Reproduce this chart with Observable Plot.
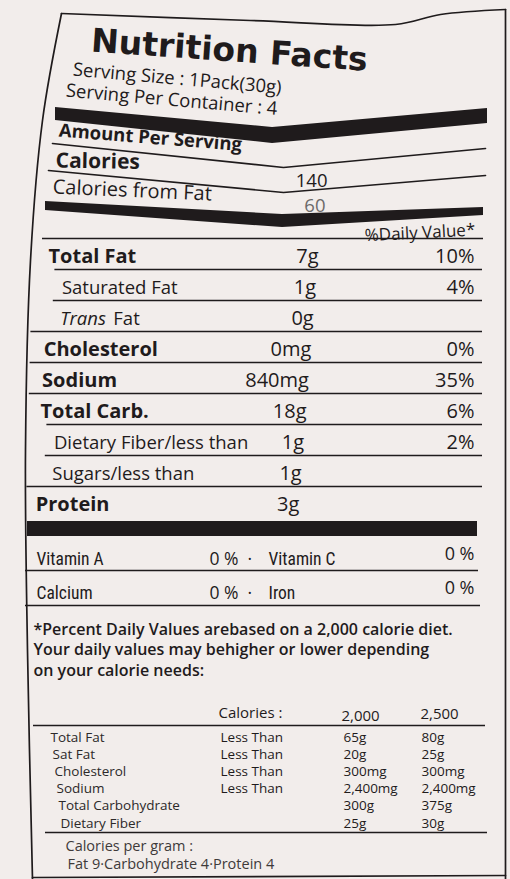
<!DOCTYPE html>
<html><head><meta charset="utf-8">
<script src="https://cdn.jsdelivr.net/npm/d3@7"></script>
<script src="https://cdn.jsdelivr.net/npm/@observablehq/plot@0.6"></script>
<style>
html,body{margin:0;padding:0;background:#f2edeb;}
#chart svg{display:block}
</style></head><body><div id="chart"></div>
<script>
// ---- data ----
const title = "Nutrition Facts";
const servingLines = ["Serving Size : 1Pack(30g)", "Serving Per Container : 4"];
const amountHeader = "Amount Per Serving";
const caloriesLabels = ["Calories", "Calories from Fat"];
const caloriesValues = ["140", "60"];
const dvHeader = "%Daily Value*";
const nutrientNames = ["Total Fat","Saturated Fat","Trans Fat","Cholesterol","Sodium","Total Carb.","Dietary Fiber/less than","Sugars/less than","Protein"];
const nutrientAmounts = ["7g","1g","0g","0mg","840mg","18g","1g","1g","3g"];
const nutrientDV = ["10%","4%","","0%","35%","6%","2%","",""];
const nutrientBold = [true,false,false,true,true,true,false,false,true];
const vitaminNames1 = ["Vitamin A","Calcium"];
const vitaminValues1 = ["0 %","0 %"];
const vitaminNames2 = ["Vitamin C","Iron"];
const vitaminValues2 = ["0 %","0 %"];
const footnote = ["*Percent Daily Values arebased on a 2,000 calorie diet.","Your daily values may behigher or lower depending","on your calorie needs:"];
const calorieLevels = ["2,000","2,500"];
const refNames = ["Total Fat","Sat Fat","Cholesterol","Sodium","Total Carbohydrate","Dietary Fiber"];
const refQualifier = ["Less Than","Less Than","Less Than","Less Than","",""];
const ref2000 = ["65g","20g","300mg","2,400mg","300g","25g"];
const ref2500 = ["80g","25g","300mg","2,400mg","375g","30g"];
const perGram = ["Calories per gram :","Fat 9\u00b7Carbohydrate 4\u00b7Protein 4"];

// ---- layout ----
const W = 510, H = 879;
const ink = "#1f1b1c";
const bg = "#f2edeb";
const sans = "'Open Sans', sans-serif";
const narrow = "'Liberation Sans Narrow', 'Roboto Condensed', sans-serif";
const rowTop = 238, rowStep = 31;
const amountEnd = 318, dvEnd = 474;
const leftX = (i, bold) => bold ? 48 - 1.6 * i : 63 - 1.6 * i;

const rows = nutrientNames.map((n, i) => ({
  t: n, amount: nutrientAmounts[i], dv: nutrientDV[i], bold: nutrientBold[i],
  x: leftX(i, nutrientBold[i]),
  y: rowTop + rowStep * i + 24,
  ax: amountEnd - i * 2.4
}));
const rowRules = rows.slice(0, -1).map((r, i) => ({
  y: rowTop + rowStep * (i + 1), x1: rows[i + 1].bold ? 32 - 0.8 * i : leftX(i + 1, false) - 7, x2: 482, w: 1.6
}));
const rules = [
  {y: rowTop, x1: 42, x2: 483, w: 1.6},
  ...rowRules,
  {y: 570, x1: 25, x2: 478, w: 1.6},
  {y: 605, x1: 25, x2: 480, w: 1.6},
  {y: 725, x1: 33, x2: 485, w: 1.6},
  {y: 832, x1: 45, x2: 487, w: 1.6}
];
// creased (bent) rules and bars at the top of the label
const creasedLines = [
  {s: "a", x: 52, y: 143}, {s: "a", x: 283, y: 167}, {s: "a", x: 485, y: 148},
  {s: "b", x: 48, y: 170}, {s: "b", x: 283, y: 192}, {s: "b", x: 485, y: 175}
];
const creasedBars = [
  {s: "1", x: 55, y1: 107, y2: 120}, {s: "1", x: 272, y1: 127, y2: 143}, {s: "1", x: 487, y1: 108, y2: 123},
  {s: "2", x: 45, y1: 201, y2: 210}, {s: "2", x: 282, y1: 214, y2: 227}, {s: "2", x: 483, y1: 207, y2: 215}
];
const bars = [
  {x1: 27, x2: 477, y1: 521, y2: 536}
];
const frame = [
  {s: "L", x: 32, y: 879}, {s: "L", x: 27, y: 650}, {s: "L", x: 25, y: 450}, {s: "L", x: 30, y: 260}, {s: "L", x: 42, y: 120}, {s: "L", x: 61, y: 13},
  {s: "T", x: 61, y: 13}, {s: "T", x: 250, y: 20}, {s: "T", x: 395, y: 24}, {s: "T", x: 440, y: 14}, {s: "T", x: 505, y: 9},
  {s: "R", x: 505, y: 9}, {s: "R", x: 505, y: 879},
  {s: "B", x: 32, y: 877}, {s: "B", x: 505, y: 875}
];

function T(data, o) {
  return Plot.text(data, {x: "x", y: "y", text: "t", lineAnchor: "bottom", textAnchor: "start",
    fill: ink, fontFamily: sans, ...o});
}

const vitRows = vitaminNames1.map((n, i) => ({n1: n, v1: vitaminValues1[i], n2: vitaminNames2[i], v2: vitaminValues2[i], y: 564 + 34 * i}));
const refRows = refNames.map((n, i) => ({t: n, q: refQualifier[i], a: ref2000[i], b: ref2500[i], y: 741 + 17.2 * i, x: 50 + 2 * i}));

const chart = Plot.plot({
  width: W, height: H, margin: 0,
  x: {domain: [0, W], range: [0, W], axis: null},
  y: {domain: [0, H], range: [0, H], axis: null},
  style: {background: bg},
  marks: [
    Plot.line(frame, {x: "x", y: "y", z: "s", curve: "catmull-rom", stroke: ink, strokeWidth: 1.7}),
    Plot.areaY(creasedBars, {x: "x", y1: "y1", y2: "y2", z: "s", fill: ink}),
    Plot.line(creasedLines, {x: "x", y: "y", z: "s", stroke: ink, strokeWidth: 1.7}),
    Plot.rect(bars, {x1: "x1", x2: "x2", y1: "y1", y2: "y2", fill: ink}),
    Plot.ruleY(rules, {y: "y", x1: "x1", x2: "x2", stroke: ink, strokeWidth: "w"}),
    // title & serving
    T([{t: title, x: 90, y: 51}], {fontFamily: "'DejaVu Sans', sans-serif", fontWeight: "bold", fontSize: 33, rotate: 4}),
    T(servingLines.map((t, i) => ({t, x: 72 - 7 * i, y: 75 + 21 * i})), {fontSize: 18.5, rotate: 5}),
    T([{t: amountHeader, x: 58, y: 136}], {fontSize: 18.5, fontWeight: "bold", rotate: 4.5}),
    T([{t: caloriesLabels[0], x: 55, y: 167}], {fontSize: 21, fontWeight: "bold", rotate: 1}),
    T([{t: caloriesLabels[1], x: 52, y: 193}], {fontSize: 20, rotate: 2.5}),
    T(caloriesValues.map((t, i) => ({t, x: 327 - 2 * i, y: 186 + 25 * i})), {textAnchor: "end", fontSize: 18.5, fill: (d, i) => i ? "#6d6a6a" : ink}),
    T([{t: dvHeader, x: dvEnd + 1, y: 235}], {textAnchor: "end", fontSize: 17, rotate: -3}),
    // main nutrient rows
    T(rows.filter(r => r.bold), {fontSize: 20, fontWeight: "bold"}),
    T(rows.filter(r => !r.bold && !r.t.startsWith("Trans")), {fontSize: 18.5}),
    T(rows.filter(r => r.t.startsWith("Trans")), {text: d => d.t.split(" ")[0], fontSize: 18.5, fontStyle: "italic"}),
    T(rows.filter(r => r.t.startsWith("Trans")), {text: d => d.t.split(" ")[1], x: d => d.x + 53, fontSize: 18.5}),
    T(rows, {text: "amount", x: "ax", textAnchor: "end", fontSize: 20}),
    T(rows, {text: "dv", x: () => dvEnd, textAnchor: "end", fontSize: 20}),
    // vitamins
    T(vitRows, {text: "n1", x: () => 36, fontSize: 17.5, fontFamily: narrow}),
    T(vitRows, {text: d => d.v1 + "  \u00b7", x: () => 209, fontSize: 17.5}),
    T(vitRows, {text: "n2", x: () => 268, fontSize: 17.5, fontFamily: narrow}),
    T(vitRows, {text: "v2", x: () => dvEnd, y: d => d.y - 5, textAnchor: "end", fontSize: 18}),
    // footnote
    T(footnote.map((t, i) => ({t, x: 33, y: 634 + 20.5 * i})), {fontSize: 16, fontWeight: 600}),
    T([{t: "Calories :", x: 218, y: 717}], {fontSize: 15}),
    T(calorieLevels.map((t, i) => ({t, x: 341 + 79 * i, y: 720 - 2 * i})), {fontSize: 15}),
    T(refRows, {fontSize: 13.5, fill: "#2c2929"}),
    T(refRows, {text: "q", x: () => 220, fontSize: 13.5}),
    T(refRows, {text: "a", x: () => 343, fontSize: 13.5}),
    T(refRows, {text: "b", x: () => 421, fontSize: 13.5}),
    T(perGram.map((t, i) => ({t, x: 65 + 2 * i, y: 850 + 18 * i})), {fontSize: 14.5, fill: "#3e3a3a"})
  ]
});
document.getElementById("chart").append(chart);
</script></body></html>
